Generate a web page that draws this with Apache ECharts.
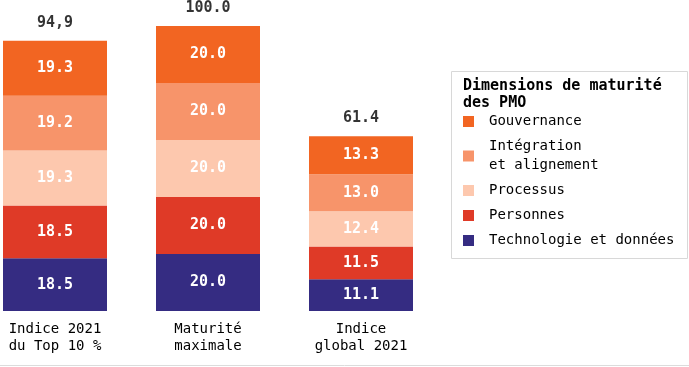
<!DOCTYPE html>
<html><head><meta charset="utf-8">
<script src="https://cdn.jsdelivr.net/npm/echarts@6/dist/echarts.min.js"></script>
<style>html,body{margin:0;padding:0;background:#fff}#c{width:689px;height:367px}</style>
</head><body><div id="c"></div>
<script>
const categories = ["Indice 2021\ndu Top 10 %", "Maturité\nmaximale", "Indice\nglobal 2021"];
const seriesNames = ["Gouvernance", "Intégration\net alignement", "Processus", "Personnes", "Technologie et données"];
const gouvernance = [19.3, 20.0, 13.3];
const integration = [19.2, 20.0, 13.0];
const processus = [19.3, 20.0, 12.4];
const personnes = [18.5, 20.0, 11.5];
const technologie = [18.5, 20.0, 11.1];
const totals = [94.9, 100.0, 61.4];
const totalLabels = ["94,9", "100.0", "61.4"];
const colors = {"Gouvernance":"#f26522","Intégration\net alignement":"#f7946a","Processus":"#fdc8ae","Personnes":"#df3a27","Technologie et données":"#352c82"};

const FONT = "DejaVu Sans Mono";
const stackOrder = [["Technologie et données", technologie],["Personnes", personnes],["Processus", processus],["Intégration\net alignement", integration],["Gouvernance", gouvernance]];
const series = stackOrder.map(([name, vals]) => ({
  name, type: 'bar', stack: 'total', data: vals, barWidth: 104, clip: false,
  itemStyle: {color: colors[name]},
  label: {show: true, position: 'inside', color: '#fff', fontFamily: FONT, fontWeight: 'bold', fontSize: 15,
    formatter: p => p.value.toFixed(1)}
}));
series.push({
  name: 'totals', type: 'scatter', data: totals, symbolSize: 0, silent: true, clip: false,
  label: {show: true, position: 'top', distance: 10, color: '#000', fontFamily: FONT, fontWeight: 'bold', fontSize: 15,
    formatter: p => totalLabels[p.dataIndex]}
});
const chart = echarts.init(document.getElementById('c'));
chart.setOption({
  animation: false,
  grid: {left: 55, right: 328, top: 26, bottom: 56, containLabel: false},
  xAxis: {type: 'category', boundaryGap: false, data: categories, axisLine: {show: false}, axisTick: {show: false},
    axisLabel: {color: '#000', fontFamily: FONT, fontSize: 14, lineHeight: 17, margin: 10}},
  yAxis: {type: 'value', min: 0, max: 100, show: false},
  legend: {data: seriesNames, orient: 'vertical', left: 463, top: 112, padding: 0, itemWidth: 11, itemHeight: 11, itemGap: 6,
    icon: 'rect', selectedMode: false,
    textStyle: {color: '#000', fontFamily: FONT, fontSize: 14, lineHeight: 19, padding: [0,0,0,10]}},
  title: {text: "Dimensions de maturité\ndes PMO", left: 458, top: 73,
    textStyle: {color: '#000', fontFamily: FONT, fontWeight: 'bold', fontSize: 15, lineHeight: 17}},
  graphic: [
    {type: 'rect', shape: {x: 451.5, y: 71.5, width: 236, height: 187}, style: {fill: 'none', stroke: '#d8d8d8', lineWidth: 1}, silent: true},
    {type: 'line', shape: {x1: 0, y1: 365.5, x2: 689, y2: 365.5}, style: {stroke: '#dcdcdc', lineWidth: 1}, silent: true}
  ],
  series
});
</script></body></html>
